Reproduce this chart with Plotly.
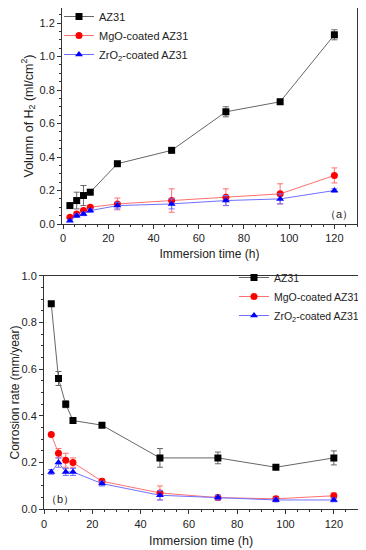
import plotly.graph_objects as go

time_h = [3, 6, 9, 12, 24, 48, 72, 96, 120]

# (a) Volume of H2 (ml/cm2)
vol_az31 = [0.11, 0.14, 0.17, 0.19, 0.36, 0.44, 0.67, 0.73, 1.13]
vol_az31_err = [0.005, 0.05, 0.06, 0.015, 0.005, 0.005, 0.03, 0.015, 0.03]
vol_mgo = [0.04, 0.06, 0.08, 0.10, 0.12, 0.14, 0.16, 0.18, 0.29]
vol_mgo_err = [0.005, 0.01, 0.01, 0.01, 0.035, 0.07, 0.05, 0.06, 0.045]
vol_zro2 = [0.02, 0.05, 0.06, 0.08, 0.11, 0.12, 0.14, 0.15, 0.20]
vol_zro2_err = [0.005, 0.01, 0.01, 0.01, 0.02, 0.03, 0.03, 0.03, 0.01]

# (b) Corrosion rate (mm/year)
cr_az31 = [0.88, 0.56, 0.45, 0.38, 0.36, 0.22, 0.22, 0.18, 0.22]
cr_az31_err = [0.005, 0.03, 0.015, 0.005, 0.005, 0.04, 0.025, 0.005, 0.03]
cr_mgo = [0.32, 0.24, 0.21, 0.20, 0.12, 0.07, 0.05, 0.045, 0.058]
cr_mgo_err = [0.005, 0.02, 0.03, 0.02, 0.01, 0.03, 0.01, 0.01, 0.012]
cr_zro2 = [0.16, 0.20, 0.16, 0.16, 0.11, 0.06, 0.05, 0.04, 0.04]
cr_zro2_err = [0.01, 0.02, 0.015, 0.015, 0.01, 0.02, 0.01, 0.008, 0.008]

names = ["AZ31", "MgO-coated AZ31", "ZrO<sub>2</sub>-coated AZ31"]
line_colors = ["#666666", "#ff7070", "#7070ff"]
marker_colors = ["#000000", "#ff0000", "#0000ff"]
symbols = ["square", "circle", "triangle-up"]

# page body has an 8px default margin; figure sized to fit the window
OFF = 8
W, H = 366 - OFF, 550 - OFF
FONT = "Liberation Sans, Arial, sans-serif"

def fx(px):
    return (px - OFF) / W

def fy(py):
    return 1 - (py - OFF) / H

fig = go.Figure()

def add_series(ys, errs, xa, ya, legend):
    for i in range(3):
        fig.add_trace(go.Scatter(
            x=time_h, y=ys[i], mode="lines+markers", name=names[i],
            xaxis=xa, yaxis=ya, legend=legend,
            line=dict(color=line_colors[i], width=1),
            marker=dict(symbol=symbols[i], color=marker_colors[i], size=7),
            error_y=dict(type="data", array=errs[i], visible=True,
                         color=line_colors[i], thickness=1, width=3),
        ))

add_series([vol_az31, vol_mgo, vol_zro2], [vol_az31_err, vol_mgo_err, vol_zro2_err], "x", "y", "legend")
add_series([cr_az31, cr_mgo, cr_zro2], [cr_az31_err, cr_mgo_err, cr_zro2_err], "x2", "y2", "legend2")

axis_common = dict(
    showline=True, linecolor="#333333", linewidth=1, mirror=True,
    ticks="outside", ticklen=4, tickcolor="#333333", showgrid=False, zeroline=False,
    automargin=False,
    tickfont=dict(size=11, color="#222222", family=FONT),
    minor=dict(ticks="outside", ticklen=2, tickcolor="#333333", showgrid=False),
)

fig.update_layout(
    template="none",
    width=W, height=H, margin=dict(l=0, r=0, t=0, b=0, autoexpand=False),
    paper_bgcolor="white", plot_bgcolor="white",
    font=dict(family=FONT, color="#222222"),
    xaxis=dict(domain=[fx(62), fx(357)], anchor="y", range=[-0.5, 130], dtick=20,
               title=dict(text="Immersion time (h)", font=dict(size=12), standoff=6),
               **axis_common),
    yaxis=dict(domain=[fy(224), 1], anchor="x", range=[0, 1.29], dtick=0.2,
               tickformat=".1f",
               title=dict(text="Volumn of H<sub>2</sub> (ml/cm<sup>2</sup>)", font=dict(size=12.5), standoff=3),
               **axis_common),
    xaxis2=dict(domain=[fx(44), fx(358)], anchor="y2", range=[0, 130], dtick=20,
                title=dict(text="Immersion time (h)", font=dict(size=12.5), standoff=7),
                **axis_common),
    yaxis2=dict(domain=[fy(509.3), fy(275.7)], anchor="x2", range=[0, 1.0], dtick=0.2,
                tickformat=".1f",
                title=dict(text="Corrosion rate (mm/year)", font=dict(size=12), standoff=4),
                **axis_common),
    legend=dict(x=fx(59), y=1 + 6 / H, xanchor="left", yanchor="top",
                bgcolor="rgba(0,0,0,0)", font=dict(size=11), itemwidth=30,
                tracegroupgap=0),
    legend2=dict(x=fx(234), y=fy(263), xanchor="left", yanchor="top",
                 bgcolor="rgba(0,0,0,0)", font=dict(size=10.5), itemwidth=30,
                 tracegroupgap=0),
    showlegend=True,
    annotations=[
        dict(text="（a）", x=129, y=0.01, xref="x", yref="y", xanchor="right", yanchor="bottom",
             showarrow=False, font=dict(size=11, family=FONT)),
        dict(text="（b）", x=0, y=0.01, xref="x2", yref="y2", xanchor="left", yanchor="bottom",
             showarrow=False, font=dict(size=11, family=FONT)),
    ],
)

fig.write_html("out.html")
